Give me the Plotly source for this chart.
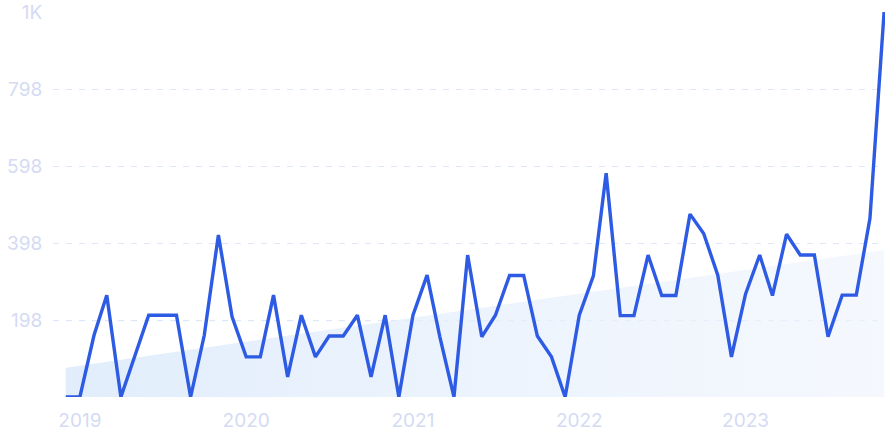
import plotly.graph_objects as go

months = [f"{y}-{m:02d}-01" for y, m in
          [(2018, 12)] + [(y, m) for y in range(2019, 2024) for m in range(1, 13)][:59]]

values = [0, 0, 160, 264, 0, 104, 212, 212, 212, 0,
          160, 420, 208, 104, 104, 264, 52, 212, 104, 158,
          158, 212, 52, 212, 0, 212, 316, 156, 0, 368,
          156, 212, 315, 315, 158, 104, 0, 212, 314, 580,
          211, 211, 368, 263, 263, 474, 424, 316, 104, 267,
          368, 263, 422, 368, 368, 156, 264, 264, 463, 998]

trend_dates = [months[0], months[-1]]
trend_values = [76, 381]

y_tickvals = [198, 398, 598, 798, 998]
y_ticktext = ["198", "398", "598", "798", "1K"]
x_tickvals = ["2019-01-01", "2020-01-01", "2021-01-01", "2022-01-01", "2023-01-01"]
x_ticktext = ["2019", "2020", "2021", "2022", "2023"]

fig = go.Figure()

fig.add_trace(go.Scatter(
    x=trend_dates, y=trend_values, mode="lines",
    line=dict(width=0, color="rgba(0,0,0,0)"),
    fill="tozeroy",
    fillgradient=dict(type="horizontal",
                      colorscale=[[0, "rgba(220,234,251,0.85)"],
                                  [1, "rgba(238,244,253,0.6)"]]),
    hoverinfo="skip", showlegend=False))

fig.add_trace(go.Scatter(
    x=months, y=values, mode="lines",
    line=dict(color="#2d5be3", width=3.4),
    cliponaxis=False, showlegend=False))

fig.add_shape(type="line", xref="paper", yref="y", x0=0, x1=1, y0=198, y1=198,
              line=dict(color="#b0e2fb", width=1, dash="6px,7px"), layer="between")

fig.update_layout(
    width=888, height=443,
    margin=dict(l=53, r=3, t=12, b=46, autoexpand=False),
    paper_bgcolor="white", plot_bgcolor="white",
    font=dict(family="Inter", size=19, color="#d4dbf3"),
    xaxis=dict(type="date", range=["2018-11-03", "2023-11-03"],
               tickvals=x_tickvals, ticktext=x_ticktext, automargin=False,
               showgrid=False, zeroline=False, showline=False,
               ticks="outside", ticklen=6, tickcolor="rgba(0,0,0,0)"),
    yaxis=dict(range=[0, 998], tickvals=y_tickvals, ticktext=y_ticktext,
               automargin=False,
               showgrid=True, gridcolor="#dfe6f8", griddash="6px,7px", gridwidth=1,
               zeroline=False, showline=False,
               ticks="outside", ticklen=6, tickcolor="rgba(0,0,0,0)"),
)

fig.write_html("out.html", config={"displayModeBar": False},
               post_script="document.body.style.margin='0';document.body.style.overflow='hidden';")
